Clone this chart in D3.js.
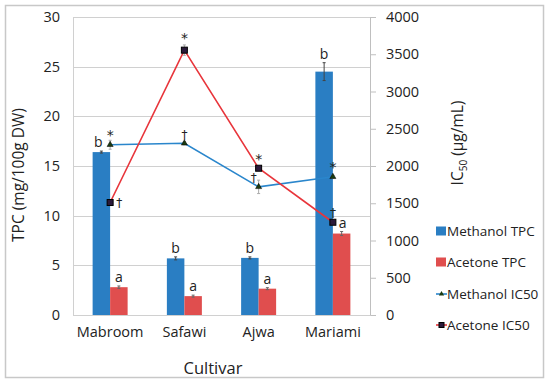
<!DOCTYPE html>
<html><head><meta charset="utf-8">
<script src="https://cdn.jsdelivr.net/npm/d3@7"></script>
<style>body{margin:0;background:#fff}svg{font-family:"Open Sans",sans-serif}</style>
</head><body><svg id="c" width="550" height="383"></svg>
<script>
const categories = ["Mabroom","Safawi","Ajwa","Mariami"];
const methanolTPC = [16.4, 5.7, 5.75, 24.5];
const methanolTPCErr = [0.1, 0.15, 0.1, 0.9];
const acetoneTPC = [2.8, 1.9, 2.65, 8.2];
const acetoneTPCErr = [0.12, 0.1, 0.1, 0.2];
const methanolIC50 = [2285, 2305, 1720, 1855];
const methanolIC50Err = [60, 20, 90, 20];
const acetoneIC50 = [1510, 3555, 1970, 1245];
const acetoneIC50Err = [20, 70, 20, 20];
const tpcLabels = ["b","b","b","b"];
const actLabels = ["a","a","a","a"];
const leftTicks = [0,5,10,15,20,25,30];
const rightTicks = [0,500,1000,1500,2000,2500,3000,3500,4000];

const svg = d3.select("#c");
const L=73, R=370, T=17, B=315;
svg.append("rect").attr("x",5.5).attr("y",5.5).attr("width",538).attr("height",372).attr("fill","#fff").attr("stroke","#c8c8c8").attr("stroke-width",1.5);

const x = d3.scaleBand().domain(categories).range([L,R]);
const yL = d3.scaleLinear().domain([0,30]).range([B,T]);
const yR = d3.scaleLinear().domain([0,4000]).range([B,T]);
const bw = 17.5;

// gridlines
svg.append("g").selectAll("line").data(leftTicks).join("line")
 .attr("x1",L).attr("x2",R).attr("y1",d=>Math.round(yL(d))+0.5).attr("y2",d=>Math.round(yL(d))+0.5)
 .attr("stroke","#d0d0d0").attr("stroke-width",1);

// left axis
const gl = svg.append("g").attr("transform",`translate(${L},0)`)
 .call(d3.axisLeft(yL).tickValues(leftTicks).tickSize(0).tickPadding(13));
gl.select(".domain").attr("stroke","#d0d0d0");
gl.selectAll("text").attr("font-size",14.5).attr("fill","#222").attr("font-family","Open Sans");
// right axis
const gr = svg.append("g").attr("transform",`translate(${R},0)`)
 .call(d3.axisRight(yR).tickValues(rightTicks).tickFormat(d3.format("d")).tickSize(6).tickPadding(10));
gr.select(".domain").attr("stroke","#bfbfbf");
gr.selectAll("line").attr("stroke","#bfbfbf");
gr.selectAll("text").attr("font-size",14.5).attr("fill","#222").attr("font-family","Open Sans");
// bottom axis
const gb = svg.append("g").attr("transform",`translate(0,${B})`)
 .call(d3.axisBottom(x).tickSize(0).tickPadding(12));
gb.select(".domain").attr("stroke","#d0d0d0");
gb.selectAll("text").attr("font-size",14.5).attr("fill","#222").attr("font-family","Open Sans");

// bars
const cx = c => x(c)+x.bandwidth()/2;
svg.append("g").selectAll("rect").data(categories).join("rect")
 .attr("x",c=>cx(c)-bw).attr("width",bw).attr("y",(c,i)=>yL(methanolTPC[i])).attr("height",(c,i)=>B-yL(methanolTPC[i])).attr("fill","#2a7ec3");
svg.append("g").selectAll("rect").data(categories).join("rect")
 .attr("x",c=>cx(c)).attr("width",bw).attr("y",(c,i)=>yL(acetoneTPC[i])).attr("height",(c,i)=>B-yL(acetoneTPC[i])).attr("fill","#e04e4e");

function errbar(g, xv, yv, e, sc, color){
  g.append("line").attr("x1",xv).attr("x2",xv).attr("y1",sc(yv-e)).attr("y2",sc(yv+e)).attr("stroke",color).attr("stroke-width",1);
  g.append("line").attr("x1",xv-1.5).attr("x2",xv+1.5).attr("y1",sc(yv-e)).attr("y2",sc(yv-e)).attr("stroke",color);
  g.append("line").attr("x1",xv-1.5).attr("x2",xv+1.5).attr("y1",sc(yv+e)).attr("y2",sc(yv+e)).attr("stroke",color);
}
const ge = svg.append("g");
categories.forEach((c,i)=>{
  errbar(ge, cx(c)-bw/2, methanolTPC[i], methanolTPCErr[i], yL, "#444");
  errbar(ge, cx(c)+bw/2, acetoneTPC[i], acetoneTPCErr[i], yL, "#666");
});

// letters
const gt = svg.append("g").attr("font-size",14).attr("fill","#222").attr("text-anchor","middle");
categories.forEach((c,i)=>{
  gt.append("text").attr("x",cx(c)-bw/2-3*(i===0)).attr("y",yL(methanolTPC[i]+methanolTPCErr[i])-4).text(tpcLabels[i]);
  gt.append("text").attr("x",cx(c)+bw/2+(i===3?1:0)).attr("y",yL(acetoneTPC[i]+acetoneTPCErr[i])-4).text(actLabels[i]);
});

// lines
const line = arr => d3.line().x((d,i)=>cx(categories[i])).y(d=>yR(d))(arr);
svg.append("path").attr("d",line(methanolIC50)).attr("fill","none").attr("stroke","#2a86cc").attr("stroke-width",1.6);
svg.append("path").attr("d",line(acetoneIC50)).attr("fill","none").attr("stroke","#e8353b").attr("stroke-width",1.6);
categories.forEach((c,i)=>{
  errbar(ge, cx(c), methanolIC50[i], methanolIC50Err[i], yR, "#aaa");
  errbar(ge, cx(c), acetoneIC50[i], acetoneIC50Err[i], yR, "#aaa");
});
const gm = svg.append("g");
gm.selectAll("path.tri").data(methanolIC50).join("path")
 .attr("d",d3.symbol(d3.symbolTriangle,16)).attr("transform",(d,i)=>`translate(${cx(categories[i])},${yR(d)})`).attr("fill","#1b3b10").attr("stroke","#000").attr("stroke-width",0.5);
gm.selectAll("rect.sq").data(acetoneIC50).join("rect")
 .attr("x",(d,i)=>cx(categories[i])-3).attr("y",d=>yR(d)-3).attr("width",6).attr("height",6).attr("fill","#2b1a3a").attr("stroke","#000").attr("stroke-width",1);

// significance marks
const marks = [
 {s:"*", ser:"m", i:0, dx:0, dy:-9},
 {s:"†", ser:"a", i:0, dx:9, dy:0},
 {s:"†", ser:"m", i:1, dx:0, dy:-8},
 {s:"*", ser:"a", i:1, dx:0, dy:-11},
 {s:"*", ser:"a", i:2, dx:0, dy:-8},
 {s:"†", ser:"m", i:2, dx:-5, dy:-9},
 {s:"*", ser:"m", i:3, dx:0, dy:-9},
 {s:"†", ser:"a", i:3, dx:0, dy:-9}
];
const gs = svg.append("g").attr("font-size",14).attr("fill","#222").attr("text-anchor","middle").attr("font-family","DejaVu Sans");
marks.forEach(m=>{
  const v = m.ser==="m"?methanolIC50[m.i]:acetoneIC50[m.i];
  gs.append("text").attr("x",cx(categories[m.i])+m.dx).attr("y",yR(v)+m.dy+4).text(m.s).attr("font-size",m.s==="*"?14:12);
});

// titles
svg.append("text").attr("x",213).attr("y",374).attr("text-anchor","middle").attr("font-size",16.5).attr("fill","#222").text("Cultivar");
svg.append("text").attr("transform","translate(24,175) rotate(-90)").attr("text-anchor","middle").attr("font-size",15.5).attr("fill","#222").text("TPC (mg/100g DW)");
const rt = svg.append("text").attr("transform","translate(463,143) rotate(-90)").attr("text-anchor","middle").attr("font-size",15.5).attr("fill","#222");
rt.append("tspan").text("IC");
rt.append("tspan").attr("font-size",10).attr("dy",4).text("50");
rt.append("tspan").attr("dy",-4).text(" (µg/mL)");

// legend
const leg = [
 {t:"Methanol TPC", k:"bar", c:"#2a7ec3"},
 {t:"Acetone TPC", k:"bar", c:"#e04e4e"},
 {t:"Methanol IC50", k:"tri", c:"#2a86cc"},
 {t:"Acetone IC50", k:"sq", c:"#e8353b"}
];
const yl = [231, 262, 294, 325];
const gLeg = svg.append("g");
leg.forEach((d,i)=>{
  const g = gLeg.append("g").attr("transform",`translate(436,${yl[i]})`);
  if(d.k==="bar") g.append("rect").attr("x",0).attr("y",-4.5).attr("width",10).attr("height",9).attr("fill",d.c);
  else {
    g.append("line").attr("x1",0).attr("x2",11).attr("y1",0).attr("y2",0).attr("stroke",d.c).attr("stroke-width",1.6);
    if(d.k==="tri") g.append("path").attr("d",d3.symbol(d3.symbolTriangle,12)).attr("transform","translate(5.5,0)").attr("fill","#1b3b10");
    else g.append("rect").attr("x",3).attr("y",-2.5).attr("width",5).attr("height",5).attr("fill","#2b1a3a").attr("stroke","#000");
  }
  g.append("text").attr("x",11).attr("y",5).attr("font-size",13.5).attr("fill","#222").text(d.t);
});
</script></body></html>
